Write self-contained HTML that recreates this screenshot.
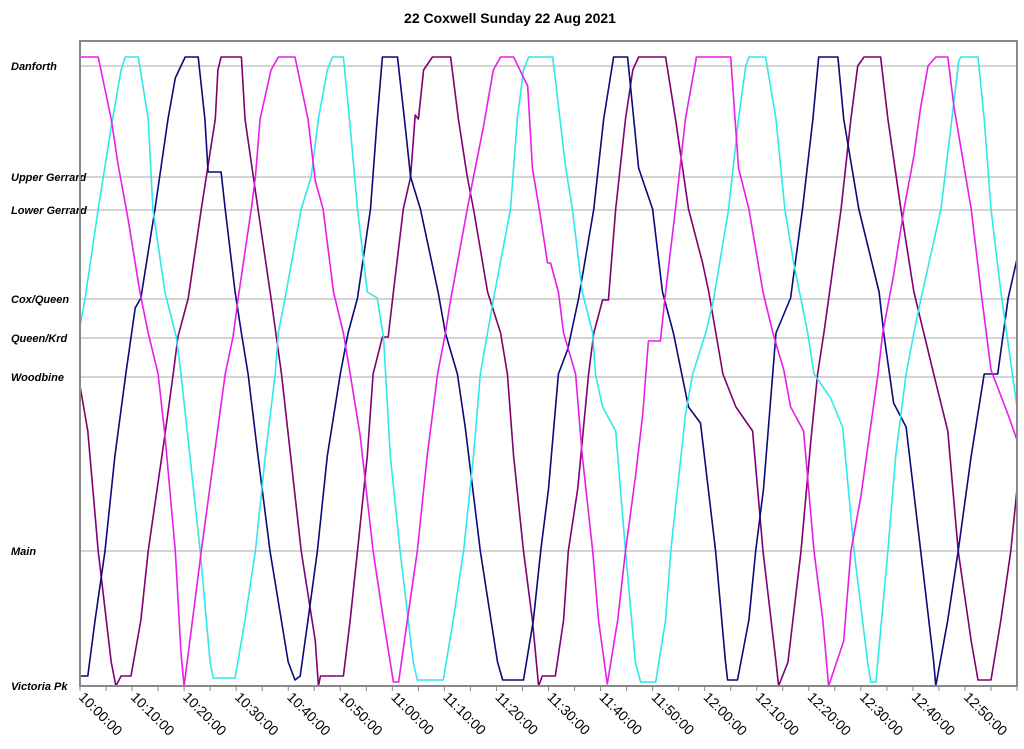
<!DOCTYPE html>
<html><head><meta charset="utf-8"><style>
body{margin:0;background:#fff;}
svg text{font-family:"Liberation Sans",Arial,sans-serif;}
</style></head><body>
<svg id="chart" width="1024" height="744" viewBox="0 0 1024 744" xmlns="http://www.w3.org/2000/svg">
<rect width="1024" height="744" fill="#fff"/>
<text x="510" y="23" text-anchor="middle" font-size="14" font-weight="bold" fill="#000">22 Coxwell Sunday 22 Aug 2021</text>
<defs><clipPath id="plotclip"><rect x="80" y="41" width="937" height="646"/></clipPath></defs>
<g id="grid"></g>
<g id="ylabels"></g>
<g id="series" clip-path="url(#plotclip)"></g>
<rect x="80" y="41" width="937" height="645" fill="none" stroke="#888" stroke-width="2"/>
<g id="xaxis"></g>
</svg>
<script>
const stopNames = ["Danforth","Upper Gerrard","Lower Gerrard","Cox/Queen","Queen/Krd","Woodbine","Main","Victoria Pk"];
const stopPositions = [620,509,476,387,348,309,135,0];
const tickLabels = ["10:00:00","10:10:00","10:20:00","10:30:00","10:40:00","10:50:00","11:00:00","11:10:00","11:20:00","11:30:00","11:40:00","11:50:00","12:00:00","12:10:00","12:20:00","12:30:00","12:40:00","12:50:00"];
const tickMinutes = [0,10,20,30,40,50,60,70,80,90,100,110,120,130,140,150,160,170];
const magentaTrips = [[-0.4,629],[3.5,629],[6.0,567],[7.3,522],[9.2,468],[11.5,394],[13.1,353],[15.0,312],[16.3,251],[18.3,135],[19.4,33],[20.0,0],[20.8,33],[23.3,135],[27.9,312],[29.4,349],[30.4,388],[32.9,477],[33.7,509],[34.6,567],[36.7,616],[38.1,629],[41.3,629],[43.8,567],[45.2,505],[46.7,477],[48.7,394],[50.6,353],[51.9,312],[53.8,251],[56.3,135],[58.3,66],[60.2,4],[61.2,4],[62.9,66],[64.8,135],[66.7,230],[68.7,312],[70.2,353],[71.2,386],[74.4,477],[75.6,509],[77.5,559],[79.4,616],[80.8,629],[83.3,629],[86.0,600],[86.9,518],[88.5,468],[89.8,423],[90.4,423],[91.9,394],[92.9,353],[95.2,312],[96.5,230],[98.5,135],[99.6,66],[101.3,2],[103.3,66],[104.8,135],[106.7,209],[108.1,271],[109.2,345],[111.5,345],[112.5,394],[114.4,477],[116.3,567],[118.3,625],[118.4,629],[125.0,629],[126.5,518],[128.5,477],[131.2,394],[133.1,353],[135.2,316],[136.5,279],[139.0,255],[141.0,135],[142.7,66],[143.8,0],[146.7,45],[148.1,135],[150.0,189],[153.3,312],[154.2,353],[156.3,411],[158.3,477],[160.2,530],[161.5,579],[162.9,620],[164.4,629],[166.7,629],[167.9,579],[171.2,477],[173.1,394],[175.0,316],[178.3,271],[180.0,246]];
const cyanTrips = [[-0.4,349],[1.0,388],[3.5,477],[6.0,559],[7.9,616],[8.7,629],[11.2,629],[13.1,567],[14.0,477],[16.3,394],[18.5,349],[19.4,312],[23.1,135],[25.0,24],[25.6,8],[29.8,8],[31.7,66],[33.7,135],[35.6,230],[37.5,312],[38.1,353],[39.4,388],[42.5,477],[44.4,509],[45.8,567],[47.5,616],[48.5,629],[50.6,629],[51.9,559],[53.3,477],[55.2,394],[57.1,388],[58.3,349],[59.6,230],[61.5,135],[64.0,24],[64.8,6],[69.8,6],[71.7,66],[73.7,135],[75.6,230],[76.9,312],[79.4,386],[82.7,477],[84.0,567],[85.2,616],[86.2,629],[90.8,629],[93.3,518],[94.6,477],[96.5,394],[98.5,353],[99.0,312],[100.4,279],[102.9,255],[104.8,135],[106.7,24],[107.7,4],[110.6,4],[112.5,66],[113.5,135],[116.3,271],[117.7,312],[120.2,353],[121.7,386],[124.6,477],[126.5,567],[127.9,620],[128.5,629],[131.7,629],[133.7,567],[135.4,477],[137.1,423],[139.8,353],[141.0,312],[144.2,288],[146.5,259],[148.7,135],[151.3,24],[151.9,4],[152.9,4],[155.2,135],[156.7,230],[158.7,312],[160.2,353],[161.5,386],[165.4,477],[167.3,559],[168.8,625],[169.2,629],[172.5,629],[173.7,567],[175.0,477],[176.9,394],[180.0,279]];
const navyTrips = [[-0.4,10],[1.5,10],[2.9,66],[4.8,135],[6.7,230],[8.8,312],[10.6,378],[11.7,388],[14.4,477],[16.9,567],[18.3,608],[20.2,629],[22.7,629],[24.0,567],[24.6,514],[27.1,514],[27.9,477],[29.8,394],[31.0,353],[32.3,312],[34.2,230],[36.5,135],[40.0,24],[41.3,6],[42.3,10],[43.8,66],[45.6,135],[47.5,230],[50.0,312],[51.5,353],[53.3,388],[55.8,477],[57.1,567],[58.1,629],[61.0,629],[62.5,559],[63.5,509],[65.4,477],[68.8,394],[70.2,353],[72.5,312],[74.0,259],[76.9,135],[80.2,24],[81.2,6],[85.2,6],[87.1,66],[88.5,135],[90.0,197],[91.9,312],[93.7,337],[95.8,388],[98.7,477],[100.6,567],[102.5,629],[105.2,629],[107.3,518],[110.0,477],[111.9,394],[114.0,353],[116.9,279],[119.2,263],[122.1,135],[124.0,24],[124.4,6],[126.3,6],[128.5,66],[129.8,135],[131.3,197],[133.7,353],[136.5,388],[138.8,477],[140.8,567],[141.9,629],[145.6,629],[146.7,567],[149.6,477],[153.5,394],[154.4,353],[156.3,283],[158.7,259],[161.5,135],[164.0,24],[164.4,0],[166.7,66],[168.7,135],[171.2,230],[173.7,312],[176.3,312],[178.3,388],[180.0,427]];
const purpleTrips = [[-0.4,312],[1.5,255],[3.5,135],[6.0,24],[6.9,0],[7.9,10],[9.8,10],[11.7,66],[13.1,135],[16.3,251],[17.9,312],[18.8,349],[20.8,388],[23.3,477],[26.0,567],[26.5,616],[27.1,629],[31.0,629],[31.7,567],[34.2,477],[36.7,388],[38.7,312],[42.5,135],[45.2,45],[45.8,0],[46.2,10],[50.6,10],[51.9,66],[53.3,135],[55.2,230],[56.3,312],[58.1,349],[59.2,349],[60.2,394],[62.1,477],[63.5,509],[64.4,571],[65.0,567],[66.0,616],[67.7,629],[71.2,629],[72.7,567],[74.4,509],[75.6,477],[78.3,394],[80.8,353],[82.1,312],[83.3,230],[85.2,135],[86.9,66],[88.1,0],[88.8,10],[91.3,10],[92.9,66],[93.8,135],[95.6,197],[97.7,312],[98.7,353],[100.4,386],[101.5,386],[102.9,477],[104.8,567],[106.2,616],[107.3,629],[112.5,629],[114.4,567],[116.9,477],[119.6,423],[120.8,394],[123.5,312],[126.0,279],[129.2,255],[131.2,135],[133.7,24],[134.2,0],[136.0,24],[138.5,135],[140.4,246],[141.7,312],[142.9,353],[146.2,477],[148.1,567],[149.4,620],[150.6,629],[153.8,629],[155.2,567],[157.7,477],[160.2,394],[162.1,353],[164.0,312],[166.7,255],[168.7,135],[171.2,45],[172.5,6],[175.0,6],[176.9,66],[178.8,135],[180.0,197]];

const NS = "http://www.w3.org/2000/svg";
const X0 = 80, X1 = 1017, Y0 = 686, PXMIN = 937/180;
function xScale(m){ return X0 + m * PXMIN; }
function yScale(p){ return Y0 - p; }

const grid = document.getElementById('grid');
const ylabels = document.getElementById('ylabels');
stopNames.forEach((name, i) => {
  const y = yScale(stopPositions[i]);
  if (stopPositions[i] > 0) {
    const l = document.createElementNS(NS, 'line');
    l.setAttribute('x1', X0); l.setAttribute('x2', X1);
    l.setAttribute('y1', y); l.setAttribute('y2', y);
    l.setAttribute('stroke', '#a8a8a8'); l.setAttribute('stroke-width', '1');
    
    
    grid.appendChild(l);
  }
  const t = document.createElementNS(NS, 'text');
  t.setAttribute('x', 11); t.setAttribute('y', y + 4);
  t.setAttribute('font-size', '11'); t.setAttribute('font-weight', 'bold'); t.setAttribute('font-style', 'italic');
  t.textContent = name;
  
  
  ylabels.appendChild(t);
});

const xaxis = document.getElementById('xaxis');
for (let m = 0; m <= 180; m += 5) {
  const x = xScale(m);
  const tk = document.createElementNS(NS, 'line');
  tk.setAttribute('x1', x); tk.setAttribute('x2', x);
  tk.setAttribute('y1', Y0); tk.setAttribute('y2', Y0 + 5);
  tk.setAttribute('stroke', '#888'); tk.setAttribute('stroke-width', '1');
  
  
  xaxis.appendChild(tk);
}
tickLabels.forEach((lab, i) => {
  const x = xScale(tickMinutes[i]);
  const t = document.createElementNS(NS, 'text');
  t.setAttribute('x', 0); t.setAttribute('y', 0);
  t.setAttribute('font-size', '14');
  t.setAttribute('transform', 'translate(' + (x - 2) + ',' + (Y0 + 12) + ') rotate(45)');
  t.textContent = lab;
  
  
  xaxis.appendChild(t);
});

const seriesG = document.getElementById('series');
function drawSeries(data, color, name) {
  const p = document.createElementNS(NS, 'polyline');
  p.setAttribute('points', data.map(d => xScale(d[0]).toFixed(1) + ',' + yScale(d[1]).toFixed(1)).join(' '));
  p.setAttribute('fill', 'none'); p.setAttribute('stroke', color);
  p.setAttribute('stroke-width', '1.6'); p.setAttribute('stroke-linejoin', 'round');
  
  
  seriesG.appendChild(p);
}
drawSeries(purpleTrips, '#800070', 'series-purple-bus');
drawSeries(navyTrips, '#0a0a78', 'series-navy-bus');
drawSeries(cyanTrips, '#30e8e8', 'series-cyan-bus');
drawSeries(magentaTrips, '#e81ee8', 'series-magenta-bus');
</script>
</body></html>
